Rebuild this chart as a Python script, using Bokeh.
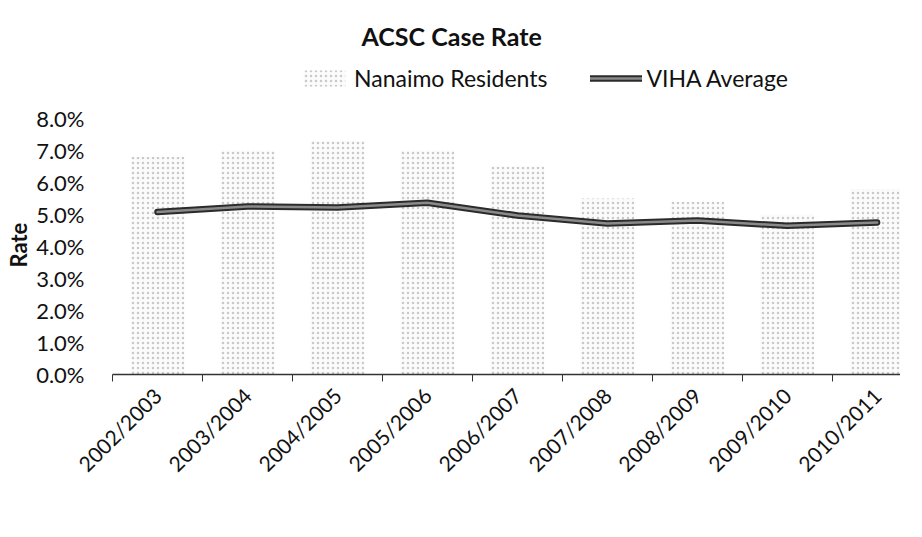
from bokeh.plotting import figure
from bokeh.models import (FixedTicker, NumeralTickFormatter, Legend, LegendItem,
                          Range1d, ColumnDataSource, Title)
from bokeh.embed import file_html
from bokeh.resources import INLINE

categories = ["2002/2003", "2003/2004", "2004/2005", "2005/2006", "2006/2007",
              "2007/2008", "2008/2009", "2009/2010", "2010/2011"]
nanaimo = [0.068, 0.070, 0.073, 0.070, 0.065, 0.055, 0.054, 0.050, 0.058]
viha = [0.0508, 0.0525, 0.0522, 0.0537, 0.0497, 0.0472, 0.0481, 0.0465, 0.0475]
y_ticks = [0.0, 0.01, 0.02, 0.03, 0.04, 0.05, 0.06, 0.07, 0.08]

xs = [i + 0.5 for i in range(len(categories))]
src = ColumnDataSource(dict(x=xs, nan=nanaimo, viha=viha))

FONT = "Lato"
p = figure(width=900, height=515, output_backend="svg", toolbar_location=None,
           x_range=Range1d(0, 8.76), y_range=Range1d(0, 0.09875),
           min_border_left=106, min_border_right=0, min_border_top=58,
           min_border_bottom=141)
p.outline_line_color = None
p.xgrid.grid_line_color = None
p.ygrid.grid_line_color = None

bars = p.vbar(x="x", top="nan", width=0.6, source=src, fill_color="#fbfbfb",
              hatch_pattern="dot", hatch_color="#c9c9c9", hatch_scale=5,
              hatch_weight=1, line_color=None)
l1 = p.line("x", "viha", source=src, line_color="#2b2b2b", line_width=6.5,
            line_join="round", line_cap="round")
l2 = p.line("x", "viha", source=src, line_color="#8a8a8a", line_width=2.5,
            line_join="round", line_cap="round")

# x axis
p.xaxis.ticker = FixedTicker(ticks=xs, minor_ticks=list(range(len(categories) + 1)))
p.xaxis.major_label_overrides = {x: c for x, c in zip(xs, categories)}
p.xaxis.major_tick_line_color = None
p.xaxis.minor_tick_line_color = "#333333"
p.xaxis.minor_tick_in = 0
p.xaxis.minor_tick_out = 7
p.xaxis.axis_line_color = "#333333"
p.xaxis.axis_line_width = 1.5
p.xaxis.major_label_orientation = 0.785398
p.xaxis.major_label_text_font = FONT
p.xaxis.major_label_text_font_size = "21px"
p.xaxis.major_label_text_color = "#111111"
p.xaxis.major_label_standoff = 10

# y axis
p.yaxis.ticker = FixedTicker(ticks=y_ticks)
p.yaxis.formatter = NumeralTickFormatter(format="0.0%")
p.yaxis.axis_line_color = None
p.yaxis.major_tick_line_color = None
p.yaxis.minor_tick_line_color = None
p.yaxis.major_label_text_font = FONT
p.yaxis.major_label_text_font_size = "22px"
p.yaxis.major_label_text_color = "#111111"
p.yaxis.major_label_standoff = 22

rate = Title(text="Rate", align="left", offset=107, text_font=FONT,
             text_font_style="bold", text_font_size="22px",
             text_color="#111111", standoff=4)
p.add_layout(rate, "left")

legend = Legend(items=[LegendItem(label="Nanaimo Residents", renderers=[bars]),
                       LegendItem(label="VIHA Average", renderers=[l1, l2])],
                orientation="horizontal", location=(186, 282),
                border_line_color=None, background_fill_alpha=0,
                label_text_font=FONT, label_text_font_size="23px",
                label_text_color="#111111", glyph_width=52, glyph_height=20,
                label_standoff=4, spacing=43, padding=0, margin=0)
p.add_layout(legend, "center")

p.title.text = "ACSC Case Rate"
p.title.align = "left"
p.title.offset = 249
p.title.text_font = FONT
p.title.text_font_style = "bold"
p.title.text_font_size = "25px"
p.title.text_color = "#111111"
p.title.standoff = 16

open("out.html", "w").write(file_html(p, INLINE))
